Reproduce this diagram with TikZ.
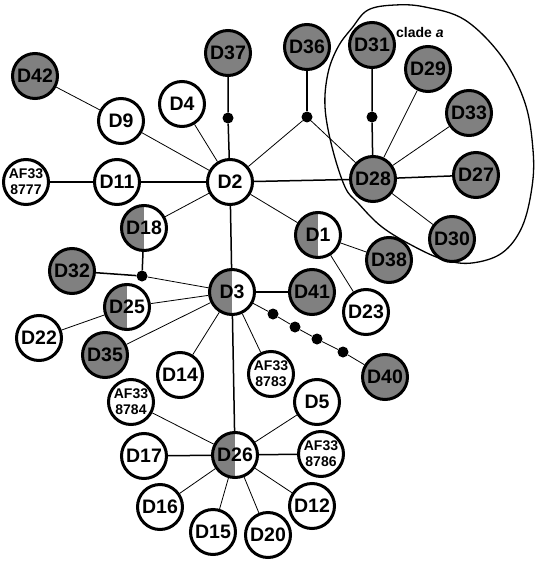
\documentclass[tikz,border=0pt]{standalone}
\usepackage{fontspec}
\setmainfont{Liberation Sans}
\usetikzlibrary{backgrounds}
\definecolor{fillgrey}{RGB}{128,128,128}
\begin{document}
\begin{tikzpicture}[x=1pt,y=-1pt,
  hap/.style={circle, draw=black, line width=3pt, minimum size=45pt, inner sep=0pt,
    font=\fontsize{19.5}{19.5}\selectfont\bfseries, fill=white},
  full/.style={hap, fill=fillgrey},
  half/.style={hap, path picture={\fill[fillgrey] (path picture bounding box.south west) rectangle (path picture bounding box.north);}},
  af/.style={hap, font=\fontsize{14}{16}\selectfont\bfseries, align=center},
  mv/.style={circle, fill=black, inner sep=0pt, minimum size=11pt},
  edge/.style={line width=0.8pt},
  edgeb/.style={line width=1.5pt}]
\useasboundingbox (0,0) rectangle (543,564);
% clade ellipse
\draw[line width=1.3pt] plot[smooth cycle, tension=0.6] coordinates {
  (352,28) (368,10) (395,5) (425,7) (465,20) (502,57) (525,103) (533,150)
  (532,187) (522,227) (502,253) (472,263) (445,260) (415,247) (382,227)
  (358,203) (345,187) (332,147) (325,107) (328,73) (338,47)};
\node[font=\fontsize{14}{14}\selectfont\bfseries, anchor=west, inner sep=0pt] (clade) at (396,32) {clade \textit{a}};
% nodes
\node[full] (D42) at (35,76) {D42};
\node[full] (D37) at (228,53) {D37};
\node[hap] (D4) at (182,104) {D4};
\node[hap] (D9) at (121,121) {D9};
\node[hap] (D2) at (230,182) {D2};
\node[hap] (D11) at (117,182) {D11};
\node[af] (AF7) at (26,182) {AF33\\8777};
\node[half] (D18) at (144,228) {D18};
\node[mv] (m37) at (228,118) {};
\node[full] (D36) at (307,47) {D36};
\node[mv] (m36) at (307,117) {};
\node[full] (D31) at (372,45) {D31};
\node[mv] (m31) at (372,117) {};
\node[full] (D29) at (428,69) {D29};
\node[full] (D33) at (469,113) {D33};
\node[full] (D28) at (373,179) {D28};
\node[full] (D27) at (476,175) {D27};
\node[full] (D30) at (452,239) {D30};
\node[full] (D38) at (389,260) {D38};
\node[half] (D1) at (318,235) {D1};
\node[full] (D32) at (72,271) {D32};
\node[mv] (m32) at (142,276) {};
\node[half] (D3) at (232,292) {D3};
\node[half] (D25) at (127,307) {D25};
\node[hap] (D22) at (39,338) {D22};
\node[full] (D35) at (105,355) {D35};
\node[hap] (D14) at (180,375) {D14};
\node[af] (AF4) at (131,402) {AF33\\8784};
\node[hap] (D17) at (144,456) {D17};
\node[half] (D26) at (235,455) {D26};
\node[hap] (D16) at (160,507) {D16};
\node[hap] (D15) at (213,532) {D15};
\node[hap] (D20) at (268,535) {D20};
\node[hap] (D12) at (312,506) {D12};
\node[af] (AF6) at (321,454) {AF33\\8786};
\node[hap] (D5) at (317,402) {D5};
\node[af] (AF3) at (271,374) {AF33\\8783};
\node[full] (D41) at (312,292) {D41};
\node[hap] (D23) at (366,312) {D23};
\node[full] (D40) at (385,377) {D40};
\node[mv] (m40a) at (273,314) {};
\node[mv] (m40b) at (295,327) {};
\node[mv] (m40c) at (317,339) {};
\node[mv] (m40d) at (343,352) {};
% edges
\begin{scope}[on background layer]
\draw[edge] (D42) -- (D9);
\draw[edge] (D9) -- (D2);
\draw[edge] (D4) -- (D2);
\draw[edgeb] (D37) -- (m37) -- (D2);
\draw[edgeb] (AF7) -- (D11);
\draw[edgeb] (D11) -- (D2);
\draw[edge] (D2) -- (D18);
\draw[edge] (D2) -- (m36);
\draw[edgeb] (m36) -- (D36);
\draw[edge] (m36) -- (D28);
\draw[edgeb] (D2) -- (D28);
\draw[edge] (D2) -- (D1);
\draw[edgeb] (D2) -- (D3);
\draw[edgeb] (D28) -- (m31) -- (D31);
\draw[edge] (D28) -- (D29);
\draw[edge] (D28) -- (D33);
\draw[edgeb] (D28) -- (D27);
\draw[edge] (D28) -- (D30);
\draw[edge] (D1) -- (D38);
\draw[edge] (D1) -- (D23);
\draw[edgeb] (D18) -- (m32);
\draw[edgeb] (D32) -- (m32);
\draw[edge] (m32) -- (D3);
\draw[edge] (D25) -- (D3);
\draw[edge] (D25) -- (D22);
\draw[edge] (D35) -- (D3);
\draw[edge] (D3) -- (D14);
\draw[edge] (D3) -- (AF3);
\draw[edgeb] (D3) -- (D41);
\draw[edge] (D3) -- (m40a) -- (m40b) -- (m40c) -- (m40d) -- (D40);
\draw[edgeb] (D3) -- (D26);
\draw[edge] (D26) -- (AF4);
\draw[edgeb] (D26) -- (D17);
\draw[edge] (D26) -- (D16);
\draw[edge] (D26) -- (D15);
\draw[edge] (D26) -- (D20);
\draw[edge] (D26) -- (D12);
\draw[edgeb] (D26) -- (AF6);
\draw[edge] (D26) -- (D5);
\end{scope}
\end{tikzpicture}
\end{document}
